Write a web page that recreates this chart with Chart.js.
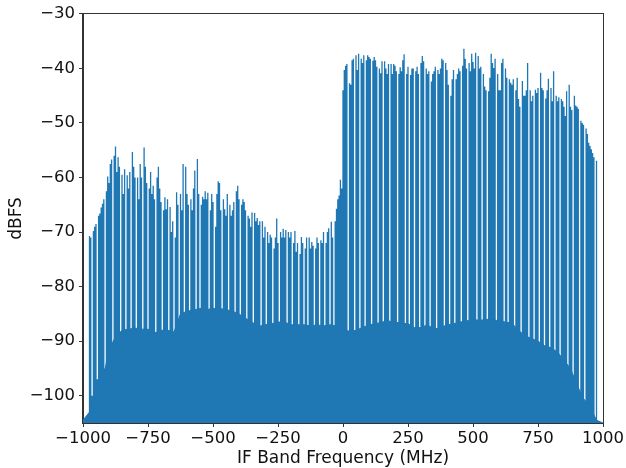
<!DOCTYPE html>
<html>
<head>
<meta charset="utf-8">
<script src="https://cdn.jsdelivr.net/npm/chart.js@4"></script>
<style>
  html, body { margin: 0; padding: 0; background: #fff; }
  canvas { display: block; }
</style>
</head>
<body>
<canvas id="ifSpectrum" width="626" height="468"></canvas>
<script>
// noise floor envelope, one value every 25 MHz from -1000 to 1000
const floorStart = -1000;
const floorStep = 25;
const floorDb = [
  -104.5, -103, -100, -97.5, -91.5, -89.2, -88, -87.8, -87.6, -87.8,
  -87.8, -88.5, -88, -88, -88.3, -85, -84.5, -84.3, -84, -84.2,
  -84, -84, -84.2, -84.5, -85, -85.8, -86.5, -87.3, -87, -86.8,
  -86.5, -86.5, -87, -87, -87, -87.2, -87, -87.2, -87, -87.2,
  -87.8, -88.2, -88, -87.5, -87, -86.8, -86.5, -86.3, -86.5, -86.7,
  -86.8, -87.5, -87.5, -87, -87.8, -87.5, -87, -86.8, -86.5, -86.3,
  -86, -86.2, -86, -86, -86.3, -86.5, -86.7, -88, -89, -89.5,
  -90, -90.8, -91.2, -92, -93.5, -95, -98, -100.5, -102, -104.5,
  -105
];

// tone peaks, one every 5 MHz starting at -975 (empty bins sit in the floor)
const spikeStart = -975;
const spikeStep = 5;
const lowerPeaks = [
  -70.7, -71, -100, -69.8, -69, -68.5, -97, -67, -66.6, -65.5,
  -64.8, -64, -95, -62.5, -59.8, -61, -57.5, -56.7, -91, -56,
  -54.3, -59, -56.3, -58, -90, -59.5, -63, -58.5, -92, -59.6,
  -62, -59, -91, -55.3, -58, -60, -90, -60, -64, -57.5,
  -60, -93, -54.5, -58, -61, -92, -62, -59, -63, -61.5,
  -64, -90, -60, -58, -62, -64.5, -91, -66, -63.6, -65.8,
  -64, -93, -65.4, -70, -68, -90, -71, -62.7, -65, -92,
  -63, -66, -57.5, -90, -58, -63, -65, -91, -64, -66,
  -62, -58.7, -90, -56.6, -63, -92, -65, -63.5, -64, -62.5,
  -64, -62.8, -91, -66, -63, -64.5, -90, -69, -63, -60.7
];
const dipPeaks = [
  -61, -66, -89, -64, -65.8, -67, -63, -90, -65, -67,
  -66, -64.5, -88, -62.5, -61.5, -64, -91, -65, -64, -64.5,
  -66, -89, -67, -67.5, -69, -66.4, -92, -66.5, -68, -67.4,
  -68.7, -68, -90, -68, -71, -69, -91, -70, -72, -70.5,
  -71, -92, -73, -71, -67.5, -72, -90, -70, -71, -69.4,
  -71, -69.6, -91, -70, -71, -70, -90, -72, -69.8, -73.6,
  -72, -92, -74, -70.9, -72, -90, -73, -71, -91, -71,
  -73, -71.8, -72.5, -90, -73, -71, -72, -92, -71.5, -72,
  -70, -90, -72, -70, -69.3, -91, -68.1, -71, -90, -68,
  -65.7, -64, -63.3, -60.4, -62
];
const upperPeaks = [
  -44, -40.3, -39.5, -39.2, -91, -42.7, -43, -38.5, -38.2, -92,
  -37.6, -40.3, -37.3, -92, -38.2, -39, -37.6, -90, -38.5, -37.6,
  -37.9, -38.2, -91, -38.6, -37.9, -38.5, -39.7, -90, -40, -40.9,
  -38.7, -92, -38.7, -40, -41, -39.2, -91, -39.2, -41, -39.2,
  -39.5, -40.5, -90, -41, -39.8, -40.5, -38.5, -37.4, -93, -41,
  -39.7, -90, -41.2, -40, -40, -92, -40.5, -39.7, -41, -90,
  -39, -37.7, -38.7, -91, -40, -41, -40.5, -93, -42.4, -41,
  -40.5, -39.7, -90, -40.3, -41, -40, -38.2, -38.5, -92, -39,
  -40.3, -43, -91, -45, -42, -40.3, -90, -42, -41, -40,
  -40.5, -92, -39.5, -36.4, -38.2, -40, -91, -39, -40.5, -37.3
];
const rolloffPeaks = [
  -38.8, -40, -37.1, -91, -37.7, -40, -39.7, -90, -41, -43.3,
  -44, -92, -44.2, -41.7, -37.3, -39, -39.9, -38.2, -91, -41,
  -44, -44, -39, -38.2, -90, -40, -41.7, -92, -42, -42.6,
  -43, -42, -91, -44, -41.7, -45.6, -47, -90, -42.3, -45,
  -45, -44, -39, -92, -44, -46, -45, -93, -43.9, -44.5,
  -43.6, -93, -40.8, -43.6, -44, -92, -45.5, -44, -41.9, -94,
  -43.6, -46, -40.5, -93, -45, -46, -45.3, -94, -45.6, -46,
  -47, -48.7, -44.2, -96, -43, -47, -47.6, -98, -45, -46.8,
  -47, -47.4, -100, -49.6, -50, -50.3, -103, -51, -52, -53.6,
  -54.2, -54.8, -55.5, -56.3, -105, -56.9
];
const noiseBottom = -110;

const xTicks = [-1000, -750, -500, -250, 0, 250, 500, 750, 1000];
const yTicks = [-100, -90, -80, -70, -60, -50, -40, -30];

const lineColor = '#1f77b4';
const fontFamily = '"DejaVu Sans", "Liberation Sans", sans-serif';

const floorPoints = floorDb.map((v, i) => ({ x: floorStart + i * floorStep, y: v }));

const allPeaks = lowerPeaks.concat(dipPeaks, upperPeaks, rolloffPeaks);
const spikePoints = [];
allPeaks.forEach((v, i) => {
  const f = spikeStart + i * spikeStep;
  spikePoints.push({ x: f, y: noiseBottom }, { x: f, y: v }, { x: f, y: noiseBottom });
});

function minusSign(v) {
  return String(v).replace('-', '\u2212');
}

// box around the plot area, like the four spines of a matplotlib axes
const frame = {
  id: 'frame',
  afterDatasetsDraw(chart) {
    const a = chart.chartArea;
    const ctx = chart.ctx;
    ctx.save();
    ctx.strokeStyle = '#333';
    ctx.lineWidth = 1;
    ctx.strokeRect(Math.round(a.left) - 0.5, Math.round(a.top) - 0.5,
      Math.round(a.right - a.left) + 1, Math.round(a.bottom - a.top) + 1);
    ctx.restore();
  }
};

new Chart(document.getElementById('ifSpectrum'), {
  type: 'line',
  data: {
    datasets: [
      {
        data: floorPoints,
        borderColor: lineColor,
        backgroundColor: lineColor,
        borderWidth: 1,
        pointRadius: 0,
        fill: 'start'
      },
      {
        data: spikePoints,
        borderColor: lineColor,
        borderWidth: 1.3,
        borderJoinStyle: 'bevel',
        pointRadius: 0,
        fill: false
      }
    ]
  },
  options: {
    responsive: false,
    animation: false,
    events: [],
    layout: { padding: { left: 0, top: 10, right: 23, bottom: 0 } },
    plugins: { legend: { display: false }, tooltip: { enabled: false } },
    scales: {
      x: {
        type: 'linear',
        min: xTicks[0],
        max: xTicks[xTicks.length - 1],
        afterBuildTicks: (axis) => { axis.ticks = xTicks.map(v => ({ value: v })); },
        afterFit: (axis) => { axis.height = 45; },
        ticks: {
          autoSkip: false,
          maxRotation: 0,
          padding: 2,
          color: '#111',
          font: { family: fontFamily, size: 16.5 },
          callback: (v) => minusSign(v)
        },
        grid: { drawOnChartArea: false, tickLength: 4, color: '#333' },
        border: { display: true, color: '#333' },
        title: {
          display: true,
          text: 'IF Band Frequency (MHz)',
          color: '#111',
          font: { family: fontFamily, size: 17 },
          padding: { top: 0, bottom: -1 }
        }
      },
      y: {
        min: -105,
        max: -30,
        afterBuildTicks: (axis) => { axis.ticks = yTicks.map(v => ({ value: v })); },
        afterFit: (axis) => { axis.width = 83; },
        ticks: {
          autoSkip: false,
          padding: 4,
          color: '#111',
          font: { family: fontFamily, size: 16.5 },
          callback: (v) => minusSign(v)
        },
        grid: { drawOnChartArea: false, tickLength: 4, color: '#333' },
        border: { display: true, color: '#333' },
        title: {
          display: true,
          text: 'dBFS',
          color: '#111',
          font: { family: fontFamily, size: 17 },
          padding: { top: 6, bottom: 0 }
        }
      }
    }
  },
  plugins: [frame]
});
</script>
</body>
</html>
